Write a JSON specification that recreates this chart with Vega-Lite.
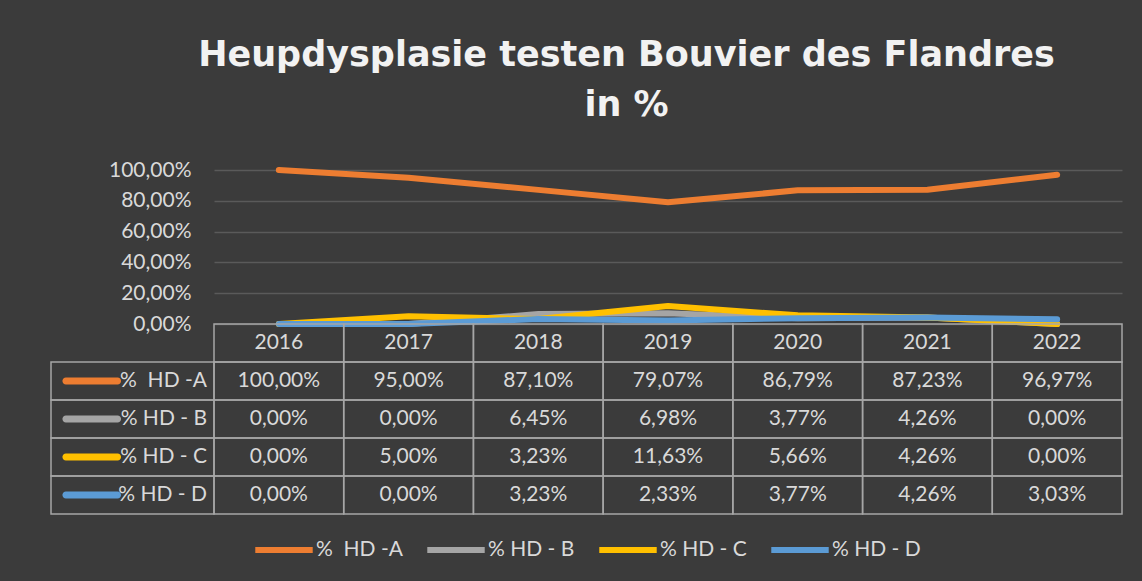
{
  "$schema": "https://vega.github.io/schema/vega-lite/v6.json",
  "background": "#3b3b3b",
  "padding": {"left": 50, "right": 20, "top": 38, "bottom": 20},
  "title": {
    "text": ["Heupdysplasie testen Bouvier des Flandres", "in %"],
    "font": "DejaVu Sans",
    "fontSize": 35,
    "fontWeight": "bold",
    "color": "#f2f2f2",
    "lineHeight": 50,
    "anchor": "middle",
    "dx": 40,
    "offset": 36
  },
  "datasets": {
    "hd": [
      {"year": "2016", "series": "%\u00a0 HD -A", "value": 1.0},
      {"year": "2017", "series": "%\u00a0 HD -A", "value": 0.95},
      {"year": "2018", "series": "%\u00a0 HD -A", "value": 0.871},
      {"year": "2019", "series": "%\u00a0 HD -A", "value": 0.7907},
      {"year": "2020", "series": "%\u00a0 HD -A", "value": 0.8679},
      {"year": "2021", "series": "%\u00a0 HD -A", "value": 0.8723},
      {"year": "2022", "series": "%\u00a0 HD -A", "value": 0.9697},
      {"year": "2016", "series": "% HD - B", "value": 0},
      {"year": "2017", "series": "% HD - B", "value": 0},
      {"year": "2018", "series": "% HD - B", "value": 0.0645},
      {"year": "2019", "series": "% HD - B", "value": 0.0698},
      {"year": "2020", "series": "% HD - B", "value": 0.0377},
      {"year": "2021", "series": "% HD - B", "value": 0.0426},
      {"year": "2022", "series": "% HD - B", "value": 0},
      {"year": "2016", "series": "% HD - C", "value": 0},
      {"year": "2017", "series": "% HD - C", "value": 0.05},
      {"year": "2018", "series": "% HD - C", "value": 0.0323},
      {"year": "2019", "series": "% HD - C", "value": 0.1163},
      {"year": "2020", "series": "% HD - C", "value": 0.0566},
      {"year": "2021", "series": "% HD - C", "value": 0.0426},
      {"year": "2022", "series": "% HD - C", "value": 0},
      {"year": "2016", "series": "% HD - D", "value": 0},
      {"year": "2017", "series": "% HD - D", "value": 0},
      {"year": "2018", "series": "% HD - D", "value": 0.0323},
      {"year": "2019", "series": "% HD - D", "value": 0.0233},
      {"year": "2020", "series": "% HD - D", "value": 0.0377},
      {"year": "2021", "series": "% HD - D", "value": 0.0426},
      {"year": "2022", "series": "% HD - D", "value": 0.0303}
    ]
  },
  "columns": 2,
  "spacing": 0,
  "bounds": "flush",
  "resolve": {"scale": {"x": "independent", "y": "independent", "color": "shared"}},
  "concat": [
    {
      "width": 163,
      "height": 154,
      "data": {"values": [{}]},
      "mark": {"type": "text", "text": ""}
    },
    {
      "width": 908,
      "height": 154,
      "data": {"name": "hd"},
      "mark": {"type": "line", "strokeWidth": 6, "strokeCap": "round", "strokeJoin": "round"},
      "encoding": {
        "x": {"field": "year", "type": "ordinal", "scale": {"type": "point", "padding": 0.5}, "axis": null},
        "y": {
          "field": "value",
          "type": "quantitative",
          "scale": {"domain": [0, 1], "nice": false},
          "axis": {
            "values": [0, 0.2, 0.4, 0.6, 0.8, 1],
            "format": ".2%",
            "title": null,
            "domain": false,
            "ticks": false,
            "labelPadding": 23,
            "labelFontSize": 21,
            "labelColor": "#d9d9d9",
            "labelFont": "Lato",
            "gridColor": "#5a5a5a",
            "gridWidth": 1.5
          }
        },
        "color": {
          "field": "series",
          "type": "nominal",
          "scale": {
            "domain": ["%\u00a0 HD -A", "% HD - B", "% HD - C", "% HD - D"],
            "range": ["#ED7D31", "#A5A5A5", "#FFC000", "#5B9BD5"]
          },
          "legend": {
            "title": null,
            "orient": "bottom",
            "direction": "horizontal",
            "symbolType": "stroke",
            "symbolSize": 3300,
            "symbolStrokeWidth": 6,
            "labelFontSize": 21,
            "labelFont": "Lato",
            "labelColor": "#d9d9d9",
            "labelOffset": 0,
            "columnPadding": 12,
            "offset": 3,
            "labelLimit": 200
          }
        }
      }
    },
    {
      "width": 163,
      "height": 190,
      "data": {"name": "hd"},
      "transform": [{"filter": "datum.year == '2016'"}],
      "encoding": {
        "y": {
          "field": "series",
          "type": "nominal",
          "scale": {"domain": ["jaar", "%\u00a0 HD -A", "% HD - B", "% HD - C", "% HD - D"], "paddingInner": 0, "paddingOuter": 0},
          "axis": null
        }
      },
      "layer": [
        {"mark": {"type": "rect", "filled": false, "color": "#a6a6a6", "strokeWidth": 1.5}},
        {
          "mark": {"type": "bar", "height": 7, "width": {"band": 0.72}, "cornerRadius": 3.5},
          "encoding": {
            "x": {"datum": "swatch", "type": "nominal", "scale": {"domain": ["swatch", "label"], "paddingInner": 0, "paddingOuter": 0}, "axis": null},
            "color": {"field": "series", "type": "nominal", "legend": null}
          }
        },
        {
          "mark": {"type": "text", "align": "right", "dx": -7, "fontSize": 21, "font": "Lato", "color": "#d9d9d9"},
          "encoding": {
            "x": {"datum": "label", "type": "nominal", "bandPosition": 1},
            "text": {"field": "series"}
          }
        }
      ]
    },
    {
      "width": 908,
      "height": 190,
      "data": {"name": "hd"},
      "encoding": {
        "x": {"field": "year", "type": "nominal", "scale": {"paddingInner": 0, "paddingOuter": 0}, "axis": null},
        "y": {
          "field": "series",
          "type": "nominal",
          "scale": {"domain": ["jaar", "%\u00a0 HD -A", "% HD - B", "% HD - C", "% HD - D"], "paddingInner": 0, "paddingOuter": 0},
          "axis": null
        }
      },
      "layer": [
        {"mark": {"type": "rect", "filled": false, "color": "#a6a6a6", "strokeWidth": 1.5}},
        {
          "mark": {"type": "text", "fontSize": 21, "font": "Lato", "color": "#d9d9d9"},
          "encoding": {"text": {"field": "value", "type": "quantitative", "format": ".2%"}}
        },
        {
          "transform": [{"filter": "datum.series == '% HD - B'"}],
          "mark": {"type": "rect", "filled": false, "color": "#a6a6a6", "strokeWidth": 1.5},
          "encoding": {"y": {"datum": "jaar", "type": "nominal"}}
        },
        {
          "transform": [{"filter": "datum.series == '% HD - B'"}],
          "mark": {"type": "text", "fontSize": 21, "font": "Lato", "color": "#d9d9d9"},
          "encoding": {"y": {"datum": "jaar", "type": "nominal"}, "text": {"field": "year"}}
        }
      ]
    }
  ],
  "config": {
    "view": {"stroke": null},
    "font": "Lato",
    "locale": {"number": {"decimal": ",", "thousands": ".", "grouping": [3], "currency": ["€", ""]}},
    "legend": {"layout": {"bottom": {"anchor": "middle"}}}
  }
}
